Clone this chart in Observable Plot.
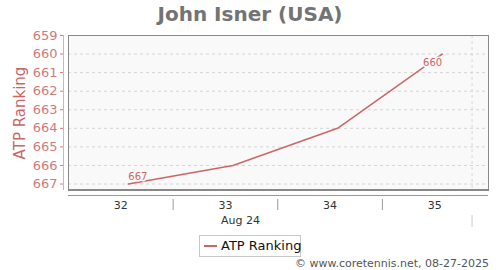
<!DOCTYPE html>
<html>
<head>
<meta charset="utf-8">
<script src="https://cdn.jsdelivr.net/npm/d3@7"></script>
<script src="https://cdn.jsdelivr.net/npm/@observablehq/plot@0.6"></script>
<style>
  html, body { margin: 0; padding: 0; background: #fff; }
  #wrap { position: relative; width: 500px; height: 270px; font-family: "DejaVu Sans", sans-serif; overflow: hidden; }
  #wrap svg { position: absolute; left: 0; top: 0; }
  #title { position: absolute; left: 0; top: 1px; width: 500px; text-align: center; font-size: 20px; font-weight: bold; color: #737373; line-height: 26px; }
  #legend { position: absolute; left: 199px; top: 235px; width: 100px; height: 20px; border: 1px solid #c8c8c8; background: #fff; box-sizing: content-box; }
  #legend .sw { position: absolute; left: 4px; top: 9px; width: 13px; height: 2px; background: #cc6666; }
  #legend .lt { position: absolute; left: 21px; top: 1px; font-size: 13px; line-height: 18px; color: #111; white-space: nowrap; }
  #credit { position: absolute; right: 11px; top: 257px; font-size: 11px; line-height: 14px; color: #555; white-space: nowrap; }
</style>
</head>
<body>
<div id="wrap">
  <div id="title">John Isner (USA)</div>
  <div id="legend"><div class="sw"></div><div class="lt">ATP Ranking</div></div>
  <div id="credit">© www.coretennis.net, 08-27-2025</div>
</div>
<script>
// Data (x = day of August 2025)
const days = [4, 11, 18, 25];
const ranks = [667, 666, 664, 660];
const yTicks = [659, 660, 661, 662, 663, 664, 665, 666, 667];
const weekLabels = ["32", "33", "34", "35"];
const weekCenters = [3.5, 10.5, 17.5, 24.5];
const weekSeparators = [7, 14, 21];
const todayDay = 27;
const monthLabel = "Aug 24";
const monthLabelPos = 11.5;

const data = days.map((d, i) => ({ day: d, rank: ranks[i] }));
const xDomain = [0, 28.1];
const yDomain = [667.35, 659];
const firstPt = [data[0]];
const lastPt = [data[data.length - 1]];

const chart = Plot.plot({
  width: 500,
  height: 270,
  marginLeft: 68,
  marginRight: 12,
  marginTop: 35,
  marginBottom: 80,
  style: { fontFamily: "DejaVu Sans, sans-serif", background: "transparent" },
  x: { domain: xDomain, axis: null, label: null },
  y: { domain: yDomain, axis: null, label: null },
  marks: [
    Plot.frame({ fill: "#f9f9f9", stroke: null }),
    Plot.gridY(yTicks, { stroke: "#d4d4d4", strokeOpacity: 1, strokeDasharray: "3,3" }),
    Plot.ruleX([todayDay], { stroke: "#d8d8d8", strokeDasharray: "3,3" }),
    Plot.frame({ stroke: "#888" }),
    Plot.ruleY([yDomain[0]], { stroke: "#888", strokeWidth: 2, dy: -0.5 }),
    // y axis
    Plot.ruleX([xDomain[0]], { y1: yDomain[0], y2: yDomain[1], dx: -5, stroke: "#e0b0b0" }),
    Plot.axisY({ ticks: yTicks, tickFormat: d => String(d), tickSize: 3, dx: -5, tickPadding: 3,
      fontSize: 13, color: "#d27a7a", label: null }),
    Plot.text(["ATP Ranking"], { frameAnchor: "left", textAnchor: "middle", rotate: -90, dx: -48, fontSize: 15,
      fill: "#cc6666" }),
    // x axis
    Plot.ruleY([yDomain[0]], { x1: xDomain[0], x2: xDomain[1], dy: 5, stroke: "#999" }),
    Plot.axisX({ ticks: weekSeparators, tickFormat: () => "", tickSize: 11, dy: 9, color: "#999", label: null }),
    Plot.axisX({ ticks: [todayDay], tickFormat: () => "", tickSize: 12, dy: 25, color: "#ccc", label: null }),
    Plot.text(weekLabels, { x: (d, i) => weekCenters[i], y: yDomain[0], dy: 15, fontSize: 11, fill: "#333" }),
    Plot.text([monthLabel], { x: monthLabelPos, y: yDomain[0], dy: 30, fontSize: 11, fill: "#333" }),
    // series
    Plot.line(data, { x: "day", y: "rank", stroke: "#cc6666", strokeWidth: 1.5 }),
    Plot.text(firstPt, { x: "day", y: "rank", text: d => String(d.rank), textAnchor: "start", dy: -7.5,
      fontSize: 10, fill: "#cc6666", stroke: "#f9f9f9", strokeWidth: 3 }),
    Plot.text(lastPt, { x: "day", y: "rank", text: d => String(d.rank), textAnchor: "end", dy: 9,
      fontSize: 10, fill: "#cc6666", stroke: "#f9f9f9", strokeWidth: 3 })
  ]
});
document.getElementById("wrap").prepend(chart);
</script>
</body>
</html>
